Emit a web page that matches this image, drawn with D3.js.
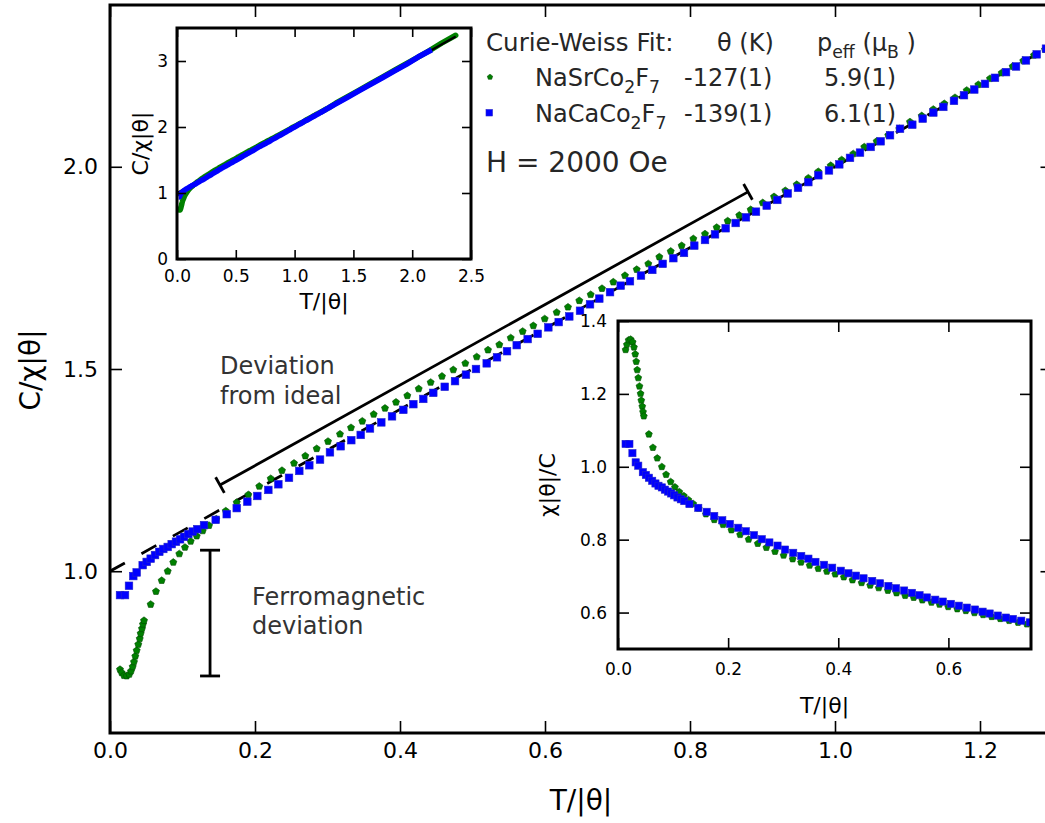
<!DOCTYPE html>
<html>
<head>
<meta charset="utf-8">
<script src="https://cdn.jsdelivr.net/npm/d3@7"></script>
<style>
  body { margin: 0; background: #fff; }
  svg { display: block; }
  text { font-family: "DejaVu Sans", sans-serif; white-space: pre; }
</style>
</head>
<body>
<svg id="chart" width="1045" height="823"></svg>
<script>
// ---------- data ----------
// NaSrCo2F7 : reduced temperature T/|θ| and C/(χ|θ|)
const srT = [
  0.0138, 0.0161, 0.0193, 0.0230, 0.0266, 0.0290, 0.0313, 0.0331, 0.0349, 0.0368, 0.0390, 0.0410, 0.0423, 0.0441, 0.0455, 0.0469,
  0.0561, 0.0634, 0.0713, 0.0796, 0.0873, 0.0956, 0.1034, 0.1113, 0.1196, 0.1279, 0.1366, 0.1466, 0.1597,
  0.1748, 0.1908, 0.2059, 0.2217, 0.2372, 0.2538, 0.2694, 0.2851, 0.3007, 0.3172, 0.3324, 0.3480, 0.3637, 0.3793, 0.3945, 0.4101, 0.4258,
  0.4423, 0.4579, 0.4735, 0.4901, 0.5058, 0.5214, 0.5370, 0.5527, 0.5692, 0.5839, 0.5996, 0.6161, 0.6317, 0.6473, 0.6630, 0.6786,
  0.6942, 0.7103, 0.7265, 0.7425, 0.7577, 0.7734, 0.7885, 0.8046, 0.8207, 0.8368, 0.8520, 0.8680, 0.8837, 0.9003, 0.9159, 0.9315, 0.9472, 0.9632, 0.9770,
  0.9941, 1.0092, 1.0252, 1.0404, 1.0575, 1.0735, 1.0887, 1.1034, 1.1196, 1.1356, 1.1508, 1.1655, 1.1817, 1.1977, 1.2138, 1.2299, 1.2451, 1.2597, 1.2745, 1.2897
];
const srC = [
  0.757, 0.749, 0.742, 0.741, 0.745, 0.753, 0.764, 0.776, 0.790, 0.804, 0.819, 0.833, 0.846, 0.858, 0.869, 0.878,
  0.918, 0.950, 0.977, 1.000, 1.022, 1.043, 1.059, 1.074, 1.087, 1.100, 1.113, 1.129, 1.149,
  1.170, 1.189, 1.210, 1.229, 1.249, 1.267, 1.285, 1.303, 1.321, 1.339, 1.355, 1.371, 1.388, 1.403, 1.418, 1.434, 1.451,
  1.467, 1.482, 1.498, 1.514, 1.530, 1.547, 1.560, 1.577, 1.593, 1.607, 1.624, 1.640, 1.653, 1.669, 1.684, 1.699,
  1.715, 1.731, 1.746, 1.760, 1.777, 1.791, 1.805, 1.822, 1.834, 1.850, 1.866, 1.880, 1.894, 1.911, 1.926, 1.941, 1.956, 1.972, 1.988,
  2.003, 2.017, 2.032, 2.049, 2.063, 2.078, 2.094, 2.111, 2.126, 2.142, 2.156, 2.171, 2.189, 2.203, 2.218, 2.232, 2.248, 2.262, 2.276, 2.290
];
// NaSrCo2F7 : high-temperature part (only inside the wide-range inset)
const srHighT = [1.35, 1.45, 1.55, 1.65, 1.75, 1.85, 1.95, 2.05, 2.15, 2.25, 2.37];
const srHighC = [2.36, 2.46, 2.56, 2.66, 2.76, 2.86, 2.96, 3.06, 3.16, 3.27, 3.39];

// NaCaCo2F7
const caT = [
  0.0138, 0.0207, 0.0262, 0.0321, 0.0368, 0.0451, 0.0506, 0.0561, 0.0621, 0.0680, 0.0735, 0.0796, 0.0851, 0.0910, 0.0966, 0.1021, 0.1080, 0.1141, 0.1204, 0.1297, 0.1458, 0.1610, 0.1748, 0.1894, 0.2032, 0.2184, 0.2322,
  0.2469, 0.2611, 0.2749, 0.2897, 0.3034, 0.3182, 0.3328, 0.3458, 0.3586, 0.3742, 0.3890, 0.4046, 0.4184,
  0.4321, 0.4459, 0.4617, 0.4759, 0.4910, 0.5048, 0.5196, 0.5338, 0.5476, 0.5610, 0.5761, 0.5899, 0.6046, 0.6189, 0.6335, 0.6483, 0.6621, 0.6749, 0.6897,
  0.7044, 0.7172, 0.7324, 0.7480, 0.7623, 0.7770, 0.7917, 0.8059, 0.8207, 0.8345, 0.8492, 0.8630, 0.8772, 0.8910, 0.9058, 0.9204, 0.9348, 0.9490, 0.9632,
  0.9770, 0.9917, 1.0059, 1.0207, 1.0345, 1.0492, 1.0630, 1.0759, 1.0897, 1.1066, 1.1210, 1.1356, 1.1494, 1.1641, 1.1779, 1.1921, 1.2069, 1.2207, 1.2359, 1.2497, 1.2634, 1.2782, 1.2910
];
const caC = [
  0.941, 0.941, 0.964, 0.988, 0.997, 1.015, 1.023, 1.031, 1.040, 1.048, 1.055, 1.060, 1.067, 1.073, 1.079, 1.085, 1.092, 1.098, 1.104, 1.114, 1.127, 1.141, 1.156, 1.172, 1.186, 1.201, 1.215,
  1.231, 1.248, 1.262, 1.276, 1.294, 1.309, 1.324, 1.337, 1.353, 1.368, 1.383, 1.399, 1.413,
  1.426, 1.441, 1.456, 1.470, 1.486, 1.500, 1.514, 1.529, 1.544, 1.559, 1.574, 1.587, 1.603, 1.616, 1.630, 1.644, 1.660, 1.674, 1.690,
  1.706, 1.717, 1.731, 1.745, 1.760, 1.774, 1.787, 1.805, 1.819, 1.833, 1.848, 1.861, 1.875, 1.889, 1.904, 1.918, 1.934, 1.948, 1.962,
  1.979, 1.991, 2.006, 2.022, 2.035, 2.049, 2.063, 2.078, 2.094, 2.104, 2.119, 2.134, 2.148, 2.163, 2.177, 2.191, 2.205, 2.220, 2.234, 2.248, 2.263, 2.278, 2.292
];
const caHighT = [1.35, 1.45, 1.55, 1.65, 1.75, 1.85, 1.95, 2.05, 2.166];
const caHighC = [2.35, 2.45, 2.55, 2.65, 2.75, 2.85, 2.95, 3.06, 3.17];

// Curie-Weiss line C/(χ|θ|) = T/|θ| + 1
const fitT = [0, 2.37];
const fitC = [1.0, 3.37];

// Annotation anchors (data units)
const devT = [0.1517, 0.880], devC = [1.213, 1.938];
const ferroT = 0.138, ferroC = [0.741, 1.052];

// Axis ticks
const mainXTicks = [0, 0.2, 0.4, 0.6, 0.8, 1.0, 1.2];
const mainYTicks = [1.0, 1.5, 2.0];
const in1XTicks = [0, 0.5, 1.0, 1.5, 2.0, 2.5];
const in1YTicks = [0, 1, 2, 3];
const in2XTicks = [0, 0.2, 0.4, 0.6];
const in2YTicks = [0.6, 0.8, 1.0, 1.2, 1.4];

// Legend table
const legendHead = ["Curie-Weiss Fit:", "θ (K)"];
const compounds = [
  { parts: [["NaSrCo", 0], ["2", 1], ["F", 0], ["7", 1]], theta: "-127(1)", peff: "5.9(1)", kind: "sr" },
  { parts: [["NaCaCo", 0], ["2", 1], ["F", 0], ["7", 1]], theta: "-139(1)", peff: "6.1(1)", kind: "ca" }
];

const GREEN = "#008000", GREEN_EDGE = "#004c00";
const BLUE = "#0000ff", BLUE_EDGE = "#2323c8";

const zip = (a, b) => a.map((v, i) => [v, b[i]]);
const srPts = zip(srT, srC), caPts = zip(caT, caC);
const fitPts = zip(fitT, fitC);

const svg = d3.select("#chart");

function pentagon(r) {
  const p = d3.range(5).map(i => {
    const a = -Math.PI / 2 + i * 2 * Math.PI / 5;
    return [r * Math.cos(a), r * Math.sin(a)];
  });
  return "M" + p.map(q => q[0].toFixed(2) + "," + q[1].toFixed(2)).join("L") + "Z";
}

function drawGreen(g, pts, x, y, r) {
  g.append("g").selectAll("path").data(pts).join("path")
    .attr("d", pentagon(r))
    .attr("transform", d => `translate(${x(d[0])},${y(d[1])})`)
    .attr("fill", GREEN).attr("stroke", GREEN_EDGE).attr("stroke-width", 0.6);
}
function drawBlue(g, pts, x, y, s) {
  g.append("g").selectAll("rect").data(pts).join("rect")
    .attr("x", d => x(d[0]) - s / 2).attr("y", d => y(d[1]) - s / 2)
    .attr("width", s).attr("height", s)
    .attr("fill", BLUE).attr("stroke", BLUE_EDGE).attr("stroke-width", 0.6);
}

function drawAxes(g, x, y, o) {
  const [x0, x1] = x.range();
  const [y0, y1] = y.range();
  g.append("g").attr("transform", `translate(0,${y0})`)
    .call(d3.axisBottom(x).tickValues(o.xt).tickFormat(o.xf).tickSizeInner(-o.len).tickSizeOuter(0).tickPadding(o.padX));
  g.append("g").attr("transform", `translate(0,${y1})`)
    .call(d3.axisTop(x).tickValues(o.xt).tickFormat("").tickSizeInner(-o.len).tickSizeOuter(0));
  g.append("g").attr("transform", `translate(${x0},0)`)
    .call(d3.axisLeft(y).tickValues(o.yt).tickFormat(o.yf).tickSizeInner(-o.len).tickSizeOuter(0).tickPadding(o.padY));
  g.append("g").attr("transform", `translate(${x1},0)`)
    .call(d3.axisRight(y).tickValues(o.yt).tickFormat("").tickSizeInner(-o.len).tickSizeOuter(0));
  g.selectAll(".domain").remove();
  g.selectAll(".tick line").attr("stroke", "#000").attr("stroke-width", 1.6);
  g.selectAll(".tick text").attr("font-size", o.fs).attr("fill", "#000")
    .attr("font-family", "DejaVu Sans");
  g.append("rect").attr("x", x0).attr("y", y1).attr("width", x1 - x0).attr("height", y0 - y1)
    .attr("fill", "none").attr("stroke", "#000").attr("stroke-width", 3);
}

function richText(g, x, y, parts, fs, fill, anchor) {
  const t = g.append("text").attr("x", x).attr("y", y).attr("font-size", fs)
    .attr("fill", fill).attr("text-anchor", anchor || "start");
  let shift = 0;
  parts.forEach(([s, sub]) => {
    const target = sub ? fs * 0.3 : 0;
    t.append("tspan").attr("dy", target - shift).attr("font-size", sub ? fs * 0.72 : fs).text(s);
    shift = target;
  });
  return t;
}

// ---------- main panel ----------
const mx = d3.scaleLinear().domain([0, 1.3]).range([110, 1052.5]);
const my = d3.scaleLinear().domain([0.6, 2.4]).range([733, 5]);

svg.append("clipPath").attr("id", "clipMain").append("rect")
  .attr("x", 110).attr("y", 5).attr("width", 942.5).attr("height", 728);

const main = svg.append("g");
const mainData = main.append("g").attr("clip-path", "url(#clipMain)");

mainData.append("path").datum(fitPts)
  .attr("d", d3.line().x(d => mx(d[0])).y(d => my(d[1])))
  .attr("fill", "none").attr("stroke", "#000").attr("stroke-width", 2.8)
  .attr("stroke-dasharray", "17,19");
drawGreen(mainData, srPts, mx, my, 3.7);
drawBlue(mainData, caPts, mx, my, 7.6);

drawAxes(main, mx, my, {
  xt: mainXTicks, yt: mainYTicks, xf: d3.format(".1f"), yf: d3.format(".1f"),
  len: 12, fs: 22, padX: 9, padY: 12
});

main.append("text").attr("x", 581).attr("y", 810).attr("text-anchor", "middle")
  .attr("font-size", 28).attr("fill", "#000").text("T/|θ|");
main.append("text").attr("transform", "translate(40,370) rotate(-90)")
  .attr("text-anchor", "middle").attr("font-size", 28).attr("fill", "#000").text("C/χ|θ|");

// deviation bracket parallel to the ideal line
const ann = svg.append("g");
{
  const p0 = [mx(devT[0]), my(devC[0])], p1 = [mx(devT[1]), my(devC[1])];
  const dx = p1[0] - p0[0], dy = p1[1] - p0[1], L = Math.hypot(dx, dy);
  const nx = -dy / L * 9, ny = dx / L * 9;
  const segs = [[p0, p1], [[p0[0] - nx, p0[1] - ny], [p0[0] + nx, p0[1] + ny]],
                [[p1[0] - nx, p1[1] - ny], [p1[0] + nx, p1[1] + ny]]];
  ann.selectAll("line.dev").data(segs).join("line").attr("class", "dev")
    .attr("x1", d => d[0][0]).attr("y1", d => d[0][1]).attr("x2", d => d[1][0]).attr("y2", d => d[1][1])
    .attr("stroke", "#000").attr("stroke-width", 2.8);

  const fx = mx(ferroT), fy0 = my(ferroC[0]), fy1 = my(ferroC[1]);
  const fsegs = [[[fx, fy0], [fx, fy1]], [[fx - 10, fy0], [fx + 10, fy0]], [[fx - 10, fy1], [fx + 10, fy1]]];
  ann.selectAll("line.ferro").data(fsegs).join("line").attr("class", "ferro")
    .attr("x1", d => d[0][0]).attr("y1", d => d[0][1]).attr("x2", d => d[1][0]).attr("y2", d => d[1][1])
    .attr("stroke", "#000").attr("stroke-width", 2.8);
}
ann.append("text").attr("x", 220).attr("y", 374).attr("font-size", 24).attr("fill", "#333").text("Deviation");
ann.append("text").attr("x", 220).attr("y", 404).attr("font-size", 24).attr("fill", "#333").text("from ideal");
ann.append("text").attr("x", 252).attr("y", 605).attr("font-size", 24).attr("fill", "#333").text("Ferromagnetic");
ann.append("text").attr("x", 252).attr("y", 634).attr("font-size", 24).attr("fill", "#333").text("deviation");

// ---------- legend / fit table ----------
const leg = svg.append("g");
const TXT = "#262626";
leg.append("text").attr("x", 486).attr("y", 51).attr("font-size", 24.5).attr("fill", TXT).text(legendHead[0]);
leg.append("text").attr("x", 717).attr("y", 51).attr("font-size", 24).attr("fill", TXT).text(legendHead[1]);
richText(leg, 817, 51, [["p", 0], ["eff", 1], [" (μ", 0], ["B", 1], [" )", 0]], 24, TXT);
compounds.forEach((c, i) => {
  const base = 86 + i * 35.5;
  const my0 = base - 9;
  if (c.kind === "sr") {
    leg.append("path").attr("d", pentagon(2.8)).attr("transform", `translate(490,${my0})`)
      .attr("fill", GREEN).attr("stroke", GREEN_EDGE).attr("stroke-width", 0.6);
  } else {
    leg.append("rect").attr("x", 486).attr("y", my0 - 3).attr("width", 6.5).attr("height", 6.5)
      .attr("fill", BLUE).attr("stroke", BLUE_EDGE).attr("stroke-width", 0.6);
  }
  richText(leg, 535, base, c.parts, 24, TXT);
  leg.append("text").attr("x", 684).attr("y", base).attr("font-size", 24).attr("fill", TXT).text(c.theta);
  leg.append("text").attr("x", 824).attr("y", base).attr("font-size", 24).attr("fill", TXT).text(c.peff);
});
leg.append("text").attr("x", 486).attr("y", 172).attr("font-size", 28).attr("fill", TXT).text("H = 2000 Oe");

// ---------- inset 1: wide temperature range ----------
const ix = d3.scaleLinear().domain([0, 2.5]).range([177, 471]);
const iy = d3.scaleLinear().domain([0, 3.5]).range([259, 28]);
const in1 = svg.append("g");
in1.append("rect").attr("x", 177).attr("y", 28).attr("width", 294).attr("height", 231).attr("fill", "#fff");
svg.append("clipPath").attr("id", "clipIn1").append("rect")
  .attr("x", 177).attr("y", 28).attr("width", 294).attr("height", 231);
const in1Data = in1.append("g").attr("clip-path", "url(#clipIn1)");
const line1 = d3.line().x(d => ix(d[0])).y(d => iy(d[1]));
in1Data.append("path").datum(srPts.concat(zip(srHighT, srHighC)))
  .attr("d", line1).attr("fill", "none").attr("stroke", GREEN).attr("stroke-width", 5.5)
  .attr("stroke-linejoin", "round").attr("stroke-linecap", "round");
in1Data.append("path").datum(fitPts)
  .attr("d", line1).attr("fill", "none").attr("stroke", "#000").attr("stroke-width", 2.2);
in1Data.append("path").datum(caPts.concat(zip(caHighT, caHighC)))
  .attr("d", line1).attr("fill", "none").attr("stroke", BLUE).attr("stroke-width", 5.5)
  .attr("stroke-linejoin", "round").attr("stroke-linecap", "butt");
drawAxes(in1, ix, iy, {
  xt: in1XTicks, yt: in1YTicks, xf: d3.format(".1f"), yf: d3.format("d"),
  len: 9, fs: 17, padX: 11, padY: 9
});
in1.append("text").attr("x", 324).attr("y", 309).attr("text-anchor", "middle")
  .attr("font-size", 22).attr("fill", "#000").text("T/|θ|");
in1.append("text").attr("transform", "translate(148,143.5) rotate(-90)")
  .attr("text-anchor", "middle").attr("font-size", 22).attr("fill", "#000").text("C/χ|θ|");

// ---------- inset 2: susceptibility at low temperature ----------
const jx = d3.scaleLinear().domain([0, 0.75]).range([618, 1031]);
const jy = d3.scaleLinear().domain([0.5, 1.4]).range([649, 321]);
const in2 = svg.append("g");
in2.append("rect").attr("x", 618).attr("y", 321).attr("width", 413).attr("height", 328).attr("fill", "#fff");
svg.append("clipPath").attr("id", "clipIn2").append("rect")
  .attr("x", 618).attr("y", 321).attr("width", 413).attr("height", 328);
const in2Data = in2.append("g").attr("clip-path", "url(#clipIn2)");
// χ|θ|/C is the reciprocal of C/(χ|θ|)
const inv = pts => pts.filter(d => d[0] <= 0.76).map(d => [d[0], 1 / d[1]]);
drawGreen(in2Data, inv(srPts), jx, jy, 3.6);
drawBlue(in2Data, inv(caPts), jx, jy, 7.2);
drawAxes(in2, jx, jy, {
  xt: in2XTicks, yt: in2YTicks, xf: d3.format(".1f"), yf: d3.format(".1f"),
  len: 11, fs: 17, padX: 14, padY: 11
});
in2.append("text").attr("x", 824.5).attr("y", 713).attr("text-anchor", "middle")
  .attr("font-size", 22).attr("fill", "#000").text("T/|θ|");
in2.append("text").attr("transform", "translate(555,485) rotate(-90)")
  .attr("text-anchor", "middle").attr("font-size", 22).attr("fill", "#000").text("χ|θ|/C");
</script>
</body>
</html>
